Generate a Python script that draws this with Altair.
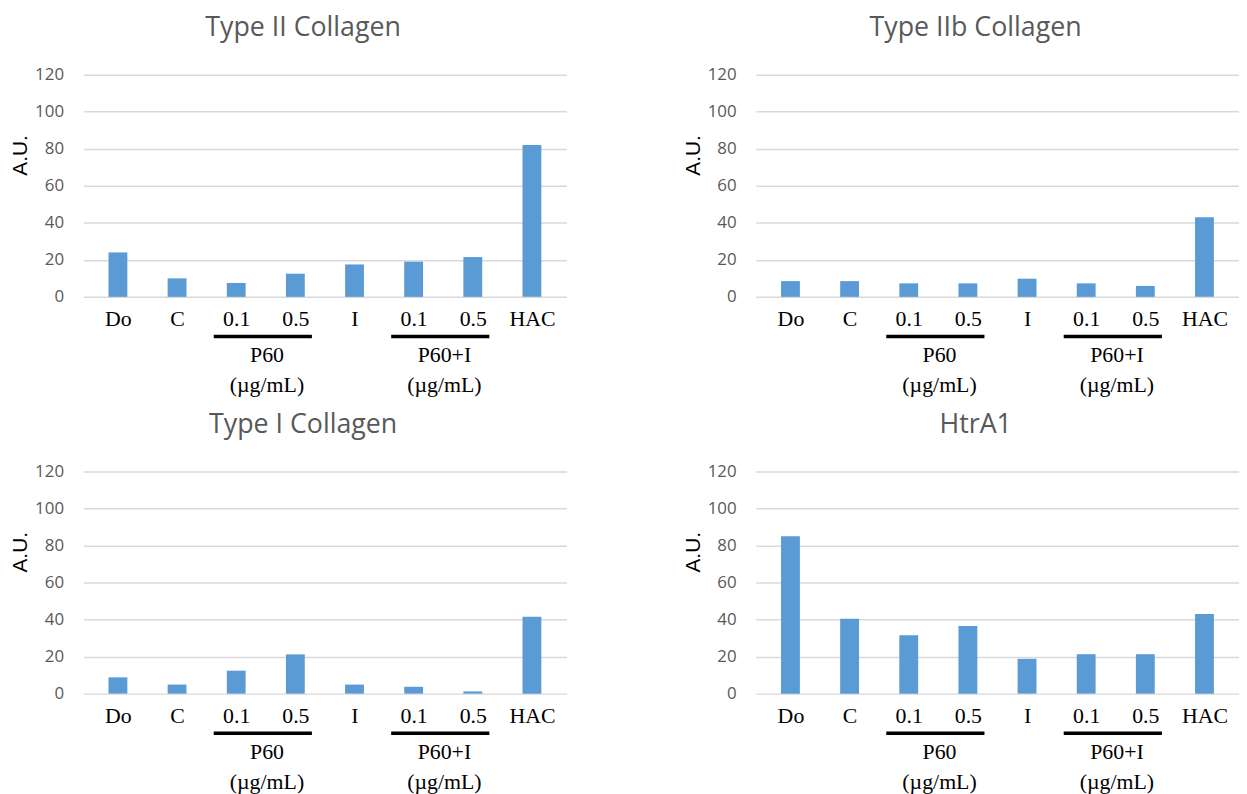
import altair as alt
import pandas as pd

# ---- data ----
categories = ["Do", "C", "0.1", "0.5", "I", "0.1", "0.5", "HAC"]
positions = [0, 1, 2, 3, 4, 5, 6, 7]
panel_titles = ["Type II Collagen", "Type IIb Collagen", "Type I Collagen", "HtrA1"]
type2_collagen = [24, 10, 7.5, 12.5, 17.5, 19, 21.5, 82]
type2b_collagen = [8.5, 8.5, 7.3, 7.3, 9.8, 7.3, 5.9, 43]
type1_collagen = [8.8, 4.9, 12.4, 21.2, 4.9, 3.7, 1.2, 41.5]
htra1 = [85, 40.5, 31.5, 36.5, 18.8, 21.3, 21.3, 43]
group_labels = ["P60", "P60+I"]
group_units = ["(µg/mL)", "(µg/mL)"]
group_start = [1.62, 4.62]
group_end = [3.28, 6.28]
group_center = [2.52, 5.52]
y_ticks = [0, 20, 40, 60, 80, 100, 120]

BLUE = "#5B9BD5"
W, H = 487, 224

label_expr = "[" + ",".join(f"'{c}'" for c in categories) + "][datum.value]"


def x_axis():
    return alt.Axis(values=positions, labelExpr=label_expr, title=None,
                    domain=False, ticks=False, grid=False,
                    labelFont="Liberation Serif", labelFontSize=22,
                    labelColor="black", labelPadding=12,
                    labelFlush=False, labelOverlap=False)


def panel(title, values):
    df = pd.DataFrame({"pos": positions, "cat": categories, "value": values})
    gdf = pd.DataFrame({
        "start": group_start,
        "end": group_end,
        "center": group_center,
        "label": [f"{a}\n{b}" for a, b in zip(group_labels, group_units)],
    })
    xscale = alt.Scale(domain=[-0.5, 7.5], nice=False, zero=False)
    x = alt.X("pos:Q", scale=xscale, axis=x_axis())
    y = alt.Y("value:Q", scale=alt.Scale(domain=[0, 120], nice=False),
              axis=alt.Axis(values=y_ticks, title="A.U.",
                            titleFont="Liberation Sans", titleFontSize=21,
                            titleFontWeight="normal", titleColor="black",
                            titleAngle=270, titleX=-63, titleY=81,
                            titleAlign="center", titleBaseline="middle",
                            labelFont="Open Sans", labelFontSize=17,
                            labelColor="#595959", labelPadding=20,
                            domain=False, ticks=False,
                            gridColor="#D9D9D9", gridWidth=1.5))
    bars = alt.Chart(df).mark_bar(color=BLUE, size=19).encode(x=x, y=y)
    rules = alt.Chart(gdf).mark_rule(color="black", strokeWidth=3.5).encode(
        x=alt.X("start:Q", scale=xscale, axis=x_axis()), x2="end:Q",
        y=alt.value(H + 40))
    texts = alt.Chart(gdf).mark_text(
        font="Liberation Serif", fontSize=22, color="black", baseline="top",
        align="center", lineBreak="\n", lineHeight=30).encode(
        x=alt.X("center:Q", scale=xscale, axis=x_axis()),
        y=alt.value(H + 49), text="label:N")
    return alt.layer(bars, rules, texts).properties(
        width=W, height=H,
        view=alt.ViewBackground(stroke="transparent", strokeWidth=0),
        title=alt.TitleParams(title, font="Open Sans", fontSize=27,
                              color="#595959", fontWeight="normal",
                              baseline="top", offset=24, dx=-22,
                              anchor="middle"))


p1 = panel(panel_titles[0], type2_collagen)
p2 = panel(panel_titles[1], type2b_collagen)
p3 = panel(panel_titles[2], type1_collagen)
p4 = panel(panel_titles[3], htra1)

chart = alt.concat(
    p1, p2, p3, p4, columns=2,
    spacing=alt.RowColnumber(row=176, column=191),
    bounds="flush",
).properties(
    padding={"top": 3, "left": 2, "right": 0, "bottom": 0}
).configure_view(
    stroke="transparent", strokeWidth=0
).configure_axis(domain=False).configure_axisX(grid=False).configure(background="white")

chart.save("out.html", embed_options={"renderer": "svg", "actions": False})
